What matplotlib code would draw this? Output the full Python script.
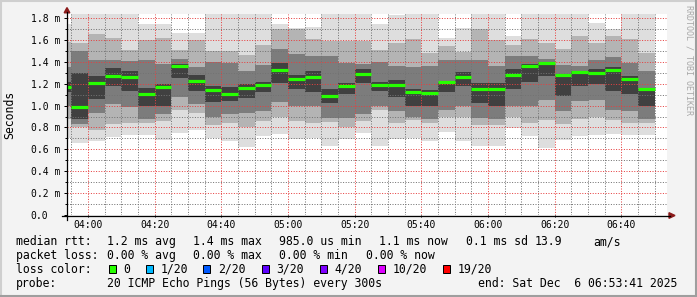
import matplotlib
matplotlib.use("Agg")
import matplotlib.pyplot as plt
from matplotlib.patches import Rectangle, Polygon
from matplotlib.lines import Line2D

# 5-minute bins (start time) and smoke percentiles, in ms
bins = ["03:50", "03:55", "04:00", "04:05", "04:10", "04:15", "04:20", "04:25", "04:30",
        "04:35", "04:40", "04:45", "04:50", "04:55", "05:00", "05:05", "05:10", "05:15",
        "05:20", "05:25", "05:30", "05:35", "05:40", "05:45", "05:50", "05:55", "06:00",
        "06:05", "06:10", "06:15", "06:20", "06:25", "06:30", "06:35", "06:40", "06:45"]
median = [1.172, 0.985, 1.202, 1.266, 1.263, 1.108, 1.168, 1.360, 1.223, 1.141, 1.108, 1.159,
          1.187, 1.324, 1.239, 1.260, 1.092, 1.177, 1.293, 1.190, 1.184, 1.120, 1.113, 1.214,
          1.263, 1.150, 1.150, 1.281, 1.360, 1.391, 1.278, 1.303, 1.296, 1.324, 1.245, 1.150]
p_min = [0.70, 0.654, 0.672, 0.715, 0.733, 0.733, 0.684, 0.745, 0.78, 0.70, 0.675, 0.62,
         0.72, 0.736, 0.696, 0.705, 0.63, 0.696, 0.745, 0.63, 0.696, 0.705, 0.675, 0.757,
         0.675, 0.63, 0.63, 0.797, 0.72, 0.608, 0.69, 0.72, 0.727, 0.742, 0.73, 0.73]
p_max = [1.75, 1.95, 1.95, 1.95, 1.95, 1.742, 1.742, 1.665, 1.665, 1.95, 1.95, 1.95,
         1.95, 1.742, 1.71, 1.72, 1.95, 1.95, 1.95, 1.742, 1.83, 1.95, 1.95, 1.62,
         1.71, 1.95, 1.95, 1.634, 1.95, 1.95, 1.95, 1.95, 1.757, 1.696, 1.95, 1.95]
p10 = [0.88, 0.80, 0.78, 0.83, 0.84, 0.84, 0.86, 0.96, 0.93, 0.82, 0.84, 0.80,
       0.86, 0.90, 0.86, 0.84, 0.85, 0.80, 0.86, 0.96, 0.84, 0.87, 0.84, 0.90,
       0.90, 0.82, 0.82, 0.90, 0.84, 0.87, 0.83, 0.88, 0.90, 0.87, 0.84, 0.84]
p90 = [1.58, 1.574, 1.65, 1.62, 1.51, 1.60, 1.62, 1.51, 1.60, 1.50, 1.50, 1.46,
       1.55, 1.70, 1.70, 1.605, 1.59, 1.59, 1.59, 1.51, 1.574, 1.605, 1.48, 1.544,
       1.49, 1.70, 1.60, 1.55, 1.605, 1.574, 1.513, 1.635, 1.574, 1.635, 1.605, 1.483]
p20 = [1.00, 0.828, 0.934, 1.01, 0.99, 0.88, 0.92, 1.08, 1.01, 0.90, 0.92, 0.93,
       0.95, 1.03, 1.00, 1.00, 0.89, 0.89, 0.92, 1.00, 0.95, 0.90, 0.88, 0.96,
       1.00, 0.89, 0.88, 1.00, 1.00, 1.05, 0.95, 1.04, 1.05, 0.96, 0.95, 0.88]
p80 = [1.35, 1.497, 1.42, 1.42, 1.41, 1.42, 1.38, 1.43, 1.35, 1.40, 1.39, 1.32,
       1.37, 1.52, 1.47, 1.45, 1.45, 1.39, 1.38, 1.40, 1.36, 1.35, 1.36, 1.42,
       1.42, 1.42, 1.36, 1.45, 1.45, 1.43, 1.37, 1.36, 1.42, 1.44, 1.39, 1.32]
p40 = [1.12, 0.874, 1.056, 1.18, 1.13, 1.00, 1.00, 1.25, 1.13, 1.03, 1.04, 1.07,
       1.12, 1.21, 1.15, 1.12, 1.02, 1.11, 1.21, 1.13, 1.08, 1.00, 1.00, 1.12,
       1.18, 1.02, 1.00, 1.15, 1.22, 1.27, 1.09, 1.18, 1.20, 1.13, 1.11, 1.00]
p60 = [1.22, 1.30, 1.27, 1.34, 1.32, 1.16, 1.20, 1.38, 1.28, 1.18, 1.17, 1.20,
       1.22, 1.39, 1.28, 1.32, 1.15, 1.21, 1.33, 1.22, 1.23, 1.15, 1.14, 1.22,
       1.31, 1.21, 1.21, 1.33, 1.38, 1.40, 1.27, 1.32, 1.33, 1.35, 1.27, 1.15]

xtick_labels = ["04:00", "04:20", "04:40", "05:00", "05:20", "05:40", "06:00", "06:20", "06:40"]
ytick_labels = ["0.0", "0.2 m", "0.4 m", "0.6 m", "0.8 m", "1.0 m", "1.2 m", "1.4 m", "1.6 m", "1.8 m"]
t_start, t_end = "03:53:41", "06:53:41"

loss_labels = ["0", "1/20", "2/20", "3/20", "4/20", "10/20", "19/20"]
loss_colors = ["#26ff00", "#00b8ff", "#0059ff", "#5e00ff", "#7e00ff", "#dd00ff", "#ff0000"]


def to_min(s):
    parts = [int(p) for p in s.split(":")]
    return parts[0] * 60 + parts[1] + (parts[2] / 60 if len(parts) > 2 else 0)


W, H = 697, 297
fig = plt.figure(figsize=(W / 100, H / 100), dpi=100, facecolor="#f3f3f3")
mono = "DejaVu Sans Mono"


def px(x, y):
    return (x / W, (H - y) / H)


ax = fig.add_axes([67 / W, (H - 215) / H, 600 / W, 201 / H])
ax.set_facecolor("white")

x = [to_min(b) for b in bins]
layers = [(p_min, p_max, "#dedede"), (p10, p90, "#b4b4b4"),
          (p20, p80, "#7c7c7c"), (p40, p60, "#404040")]
for lo, hi, c in layers:
    ax.bar(x, [h - l for l, h in zip(lo, hi)], bottom=lo, width=5, align="edge",
           color=c, linewidth=0, zorder=1)
ax.hlines(median, x, [v + 5 for v in x], colors="#26ff00", lw=2.3, zorder=4)

ax.set_xlim(to_min(t_start), to_min(t_end))
ax.set_ylim(0, 1.837)

ax.set_xticks([to_min(t) for t in xtick_labels])
ax.set_xticklabels(xtick_labels, family=mono, fontsize=7)
ax.set_xticks([to_min("03:55") + 5 * i for i in range(36)], minor=True)
ax.set_yticks([0.2 * i for i in range(10)])
ax.set_yticklabels(ytick_labels, family=mono, fontsize=7)
ax.set_yticks([0.1 + 0.2 * i for i in range(9)], minor=True)
for lab in ax.get_yticklabels():
    lab.set_ha("left")
ax.tick_params(axis="y", which="major", length=2.2, width=0.72, pad=23.9)
ax.tick_params(axis="y", which="minor", length=1.4, width=0.72)
ax.tick_params(axis="x", which="major", length=1.4, width=0.72, pad=2.2)
ax.tick_params(axis="x", which="minor", length=0)

ax.set_axisbelow(False)
ax.grid(which="major", color=(0.9, 0.25, 0.25, 0.35), ls=(0, (1, 1.6)), lw=0.72)
ax.grid(which="minor", color=(0.45, 0.45, 0.45, 0.28), ls=(0, (1, 1.6)), lw=0.72)
for s in ax.spines.values():
    s.set_visible(False)

# axis lines with arrows
fig.add_artist(Line2D(*zip(px(62, 215.5), px(670, 215.5)), transform=fig.transFigure,
                      color="black", lw=0.9))
fig.add_artist(Line2D(*zip(px(67, 220), px(67, 12)), transform=fig.transFigure,
                      color="black", lw=0.9))
fig.add_artist(Polygon([px(64.2, 12.8), px(69.8, 12.8), px(67, 7.6)], closed=True,
                       transform=fig.transFigure, color="#8b1a1a"))
fig.add_artist(Polygon([px(669, 212.7), px(669, 218.3), px(675, 215.5)], closed=True,
                       transform=fig.transFigure, color="#8b1a1a"))

fig.text(*px(10, 114.5), "Seconds", rotation=90, ha="center", va="center",
         family=mono, fontsize=8.3)
fig.text(*px(688.5, 60), "RRDTOOL / TOBI OETIKER", rotation=270, ha="center",
         va="center", family=mono, fontsize=6, color="#a8a8a8")

fs = 8.3
legend_rows = [
    (241.7, [(16, "median rtt:"), (107.3, "1.2 ms avg"), (193.3, "1.4 ms max"),
             (279.3, "985.0 us min"), (379.3, "1.1 ms now"), (465.7, "0.1 ms sd"),
             (535, "13.9"), (593.3, "am/s")]),
    (255.3, [(16, "packet loss:"), (107.3, "0.00 % avg"), (193.3, "0.00 % max"),
             (279.3, "0.00 % min"), (365.7, "0.00 % now")]),
    (283.3, [(16, "probe:"), (107.3, "20 ICMP Echo Pings (56 Bytes) every 300s"),
             (478.3, "end: Sat Dec  6 06:53:41 2025")]),
]
for y, items in legend_rows:
    for xx, s in items:
        fig.text(*px(xx, y), s, ha="left", va="center", family=mono, fontsize=fs)

y3 = 269.3
fig.text(*px(16, y3), "loss color:", ha="left", va="center", family=mono, fontsize=fs)
box_x = [108.6, 145.7, 203.3, 261.7, 320, 378.3, 442.7]
for bx, lab, c in zip(box_x, loss_labels, loss_colors):
    fig.add_artist(Rectangle(px(bx, y3 + 4), 7 / W, 8 / H, transform=fig.transFigure,
                             facecolor=c, edgecolor="black", lw=0.72))
    fig.text(*px(bx + 14.5, y3), lab, ha="left", va="center", family=mono, fontsize=fs)

# 3d frame
fig.add_artist(Line2D([0, 1], [1 - 1 / H, 1 - 1 / H], transform=fig.transFigure, color="#cfcfcf", lw=1.5))
fig.add_artist(Line2D([1 / W, 1 / W], [0, 1], transform=fig.transFigure, color="#cfcfcf", lw=1.5))
fig.add_artist(Line2D([0, 1], [1 / H, 1 / H], transform=fig.transFigure, color="#9e9e9e", lw=1.5))
fig.add_artist(Line2D([1 - 1 / W, 1 - 1 / W], [0, 1], transform=fig.transFigure, color="#9e9e9e", lw=1.5))

fig.savefig("out.png", dpi=100, facecolor=fig.get_facecolor())
